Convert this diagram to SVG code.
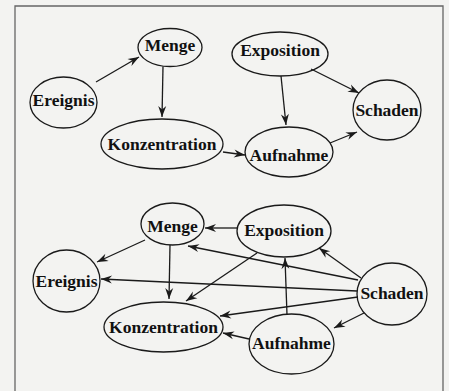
<svg xmlns="http://www.w3.org/2000/svg" width="449" height="391" viewBox="0 0 449 391">
<style>
.n ellipse{fill:none;stroke:#1a1a1a;stroke-width:1.3}
.n text{font-family:"Liberation Serif","Times New Roman",serif;font-weight:bold;font-size:17.5px;fill:#111;text-anchor:middle}
.e line{stroke:#1a1a1a;stroke-width:1.3;marker-end:url(#ah)}
</style>
<defs>
<marker id="ah" markerUnits="userSpaceOnUse" viewBox="-12 -5 13 10" refX="0" refY="0" markerWidth="13" markerHeight="10" orient="auto">
<path d="M0,0 L-11,-4 L-7.5,0 L-11,4 Z" fill="#1a1a1a"/>
</marker>
</defs>
<rect x="0" y="0" width="449" height="391" fill="#f3f3f1"/>
<path d="M15,395 V6 H443 V395" fill="none" stroke="#666" stroke-width="1.3"/>

<g id="n1-menge" class="n"><ellipse cx="170" cy="47.5" rx="32" ry="19"/><text x="170" y="51">Menge</text></g>
<g id="n1-ereignis" class="n"><ellipse cx="63.5" cy="102.5" rx="33.5" ry="25.5"/><text x="63.5" y="106">Ereignis</text></g>
<g id="n1-konzentration" class="n"><ellipse cx="162" cy="144" rx="61" ry="25"/><text x="162" y="150">Konzentration</text></g>
<g id="n1-exposition" class="n"><ellipse cx="280" cy="54" rx="48" ry="22"/><text x="280" y="56">Exposition</text></g>
<g id="n1-schaden" class="n"><ellipse cx="387" cy="110" rx="34" ry="30"/><text x="387" y="116">Schaden</text></g>
<g id="n1-aufnahme" class="n"><ellipse cx="289" cy="152" rx="44" ry="25"/><text x="289" y="161">Aufnahme</text></g>

<g id="n2-menge" class="n"><ellipse cx="172.5" cy="224" rx="31.5" ry="21"/><text x="172.5" y="232">Menge</text></g>
<g id="n2-ereignis" class="n"><ellipse cx="66.5" cy="281" rx="33.5" ry="31"/><text x="66.5" y="287">Ereignis</text></g>
<g id="n2-konzentration" class="n"><ellipse cx="163.5" cy="327" rx="59.5" ry="25"/><text x="163.5" y="333">Konzentration</text></g>
<g id="n2-exposition" class="n"><ellipse cx="284" cy="231" rx="47" ry="26"/><text x="284" y="236">Exposition</text></g>
<g id="n2-schaden" class="n"><ellipse cx="392" cy="294" rx="35" ry="31"/><text x="392" y="299">Schaden</text></g>
<g id="n2-aufnahme" class="n"><ellipse cx="291.5" cy="344" rx="42.5" ry="30"/><text x="291.5" y="349">Aufnahme</text></g>

<g id="connectors" class="e">
<line x1="96" y1="82" x2="139" y2="57"/>
<line x1="163" y1="66.5" x2="162" y2="117"/>
<line x1="223" y1="152" x2="245" y2="155"/>
<line x1="281" y1="76" x2="286" y2="125"/>
<line x1="311" y1="69" x2="359" y2="93"/>
<line x1="330" y1="143" x2="357" y2="132"/>

<line x1="237" y1="228" x2="205" y2="228"/>
<line x1="358" y1="280" x2="188" y2="246"/>
<line x1="357" y1="291" x2="101" y2="279"/>
<line x1="358" y1="297" x2="220" y2="316"/>
<line x1="249" y1="339" x2="223" y2="333"/>
<line x1="287" y1="315" x2="285" y2="258"/>
<line x1="361" y1="278" x2="319" y2="248"/>
<line x1="364" y1="313" x2="334" y2="328"/>
<line x1="145" y1="240" x2="97" y2="262"/>
<line x1="170" y1="245" x2="169" y2="299"/>
<line x1="257" y1="253" x2="186" y2="301"/>
</g>
</svg>
